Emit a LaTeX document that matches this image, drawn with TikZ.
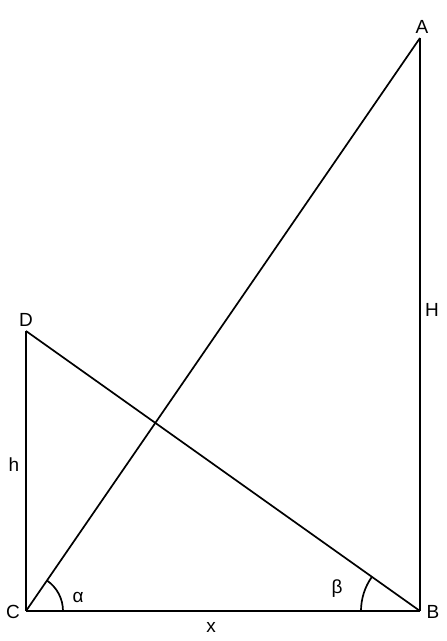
\documentclass[tikz,border=0pt]{standalone}
\usepackage{fontspec}
\setmainfont{Liberation Sans}

\tikzstyle{lbl}=[font=\fontsize{19}{22}\selectfont,inner sep=1pt]

\begin{document}
\begin{tikzpicture}[x=1pt,y=1pt,line width=1.7pt]
  \useasboundingbox (0,0) rectangle (447,641);
  \coordinate (C) at (26,30);
  \coordinate (B) at (420,30);
  \coordinate (A) at (420,603);
  \coordinate (D) at (26,310);

  \node[lbl] (lA) at (422,614) {A};
  \node[lbl] (lD) at (26,321) {D};
  \node[lbl] (lC) at (13,29) {C};
  \node[lbl] (lB) at (433,29) {B};
  \node[lbl] (lH) at (432,331) {H};
  \node[lbl] (lh) at (14,176) {h};
  \node[lbl] (lx) at (211,14) {x};
  \node[lbl] (la) at (78,44) {α};
  \node[lbl] (lb) at (337,52) {β};

  \draw (C) -- (B);
  \draw (B) -- (A);
  \draw (A) -- (C);
  \draw (C) -- (D);
  \draw (D) -- (B);

  \draw ([shift={(0:37)}]C) arc (0:55.5:37);
  \draw ([shift={(180:59)}]B) arc (180:144.6:59);
\end{tikzpicture}
\end{document}
